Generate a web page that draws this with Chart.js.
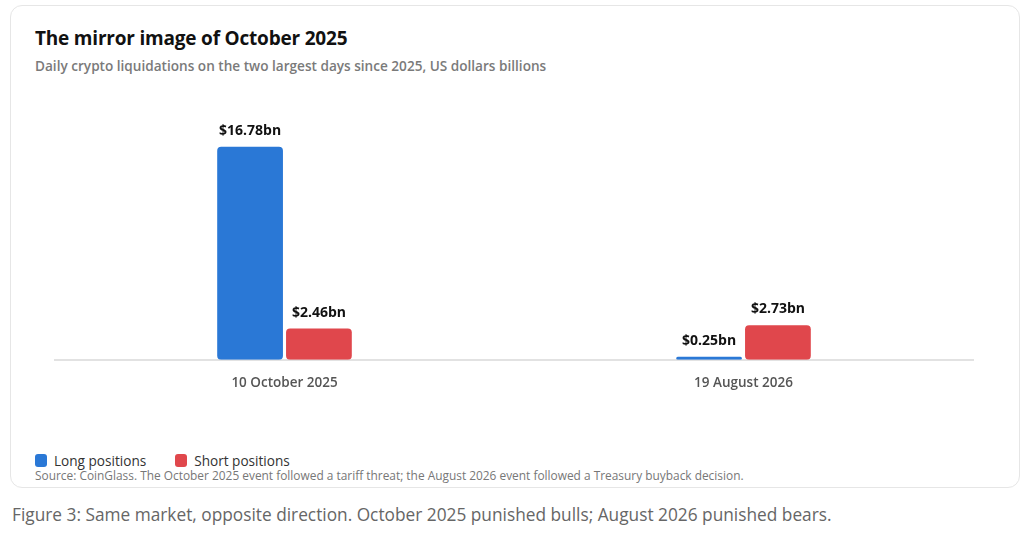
<!DOCTYPE html>
<html><head><meta charset="utf-8">
<script src="https://cdn.jsdelivr.net/npm/chart.js@4.4.0/dist/chart.umd.min.js"></script>
<style>
html,body{margin:0;padding:0;background:#fff;width:1024px;height:541px;overflow:hidden;font-family:"Open Sans","Noto Sans",sans-serif;}
#card{position:absolute;left:10px;top:5px;width:1008px;height:481px;border:1px solid #e6e6e6;border-radius:12px;background:#fff;}
#title{position:absolute;left:35px;top:25px;font-size:19px;font-weight:700;color:#111;letter-spacing:-0.2px;}
#sub{position:absolute;left:35px;top:56px;font-size:13.6px;font-weight:600;color:#7a7a7a;}
#wrap{position:absolute;left:0;top:90px;width:1024px;height:308px;}
#legend{position:absolute;left:35px;top:451px;font-size:13.6px;color:#333;font-weight:500;display:flex;}
#legend .it{display:flex;align-items:center;margin-right:29px;}
#legend .sw{width:12px;height:13px;border-radius:3px;margin-right:7px;}
#src{position:absolute;left:35px;top:467px;font-size:11.9px;color:#777;}
#cap{position:absolute;left:12px;top:503px;font-size:17.3px;color:#666;}
</style></head>
<body>
<div id="card"></div>
<div id="title">The mirror image of October 2025</div>
<div id="sub">Daily crypto liquidations on the two largest days since 2025, US dollars billions</div>
<div id="wrap"><canvas id="c"></canvas></div>
<div id="legend"></div>
<div id="src">Source: CoinGlass. The October 2025 event followed a tariff threat; the August 2026 event followed a Treasury buyback decision.</div>
<div id="cap">Figure 3: Same market, opposite direction. October 2025 punished bulls; August 2026 punished bears.</div>
<script>
const categories = ["10 October 2025", "19 August 2026"];
const seriesNames = ["Long positions", "Short positions"];
const longValues = [16.78, 0.25];
const shortValues = [2.46, 2.73];
const seriesColors = ["#2a78d6", "#e0474c"];

const leg = document.getElementById('legend');
seriesNames.forEach((n,i)=>{
  const d=document.createElement('div');d.className='it';
  d.innerHTML='<span class="sw" style="background:'+seriesColors[i]+'"></span>'+n;
  leg.appendChild(d);
});

const labelPlugin = {
  id:'vals',
  afterDatasetsDraw(chart){
    const ctx=chart.ctx;
    ctx.save();
    ctx.font='700 14px "Open Sans","Noto Sans",sans-serif';
    ctx.fillStyle='#111';
    ctx.textAlign='center';
    ctx.textBaseline='bottom';
    chart.data.datasets.forEach((ds,di)=>{
      chart.getDatasetMeta(di).data.forEach((el,i)=>{
        ctx.fillText('$'+ds.data[i].toFixed(2)+'bn', el.x, el.y-9);
      });
    });
    ctx.restore();
  }
};

new Chart(document.getElementById('c'),{
  type:'bar',
  data:{
    labels:categories,
    datasets:[
      {label:seriesNames[0],data:longValues,backgroundColor:seriesColors[0],borderRadius:4,borderSkipped:false,categoryPercentage:0.3,barPercentage:0.955},
      {label:seriesNames[1],data:shortValues,backgroundColor:seriesColors[1],borderRadius:4,borderSkipped:false,categoryPercentage:0.3,barPercentage:0.955}
    ]
  },
  options:{
    responsive:true,maintainAspectRatio:false,animation:false,
    layout:{padding:{left:55,right:51,top:16,bottom:0}},
    plugins:{legend:{display:false},tooltip:{enabled:false}},
    scales:{
      x:{grid:{display:false},border:{display:true,color:'#e2e2e2',width:2},
         ticks:{color:'#555',padding:7,font:{family:'"Open Sans","Noto Sans",sans-serif',size:13.5,weight:'600'}}},
      y:{display:false,min:0,max:20}
    }
  },
  plugins:[labelPlugin]
});
</script>
</body></html>
